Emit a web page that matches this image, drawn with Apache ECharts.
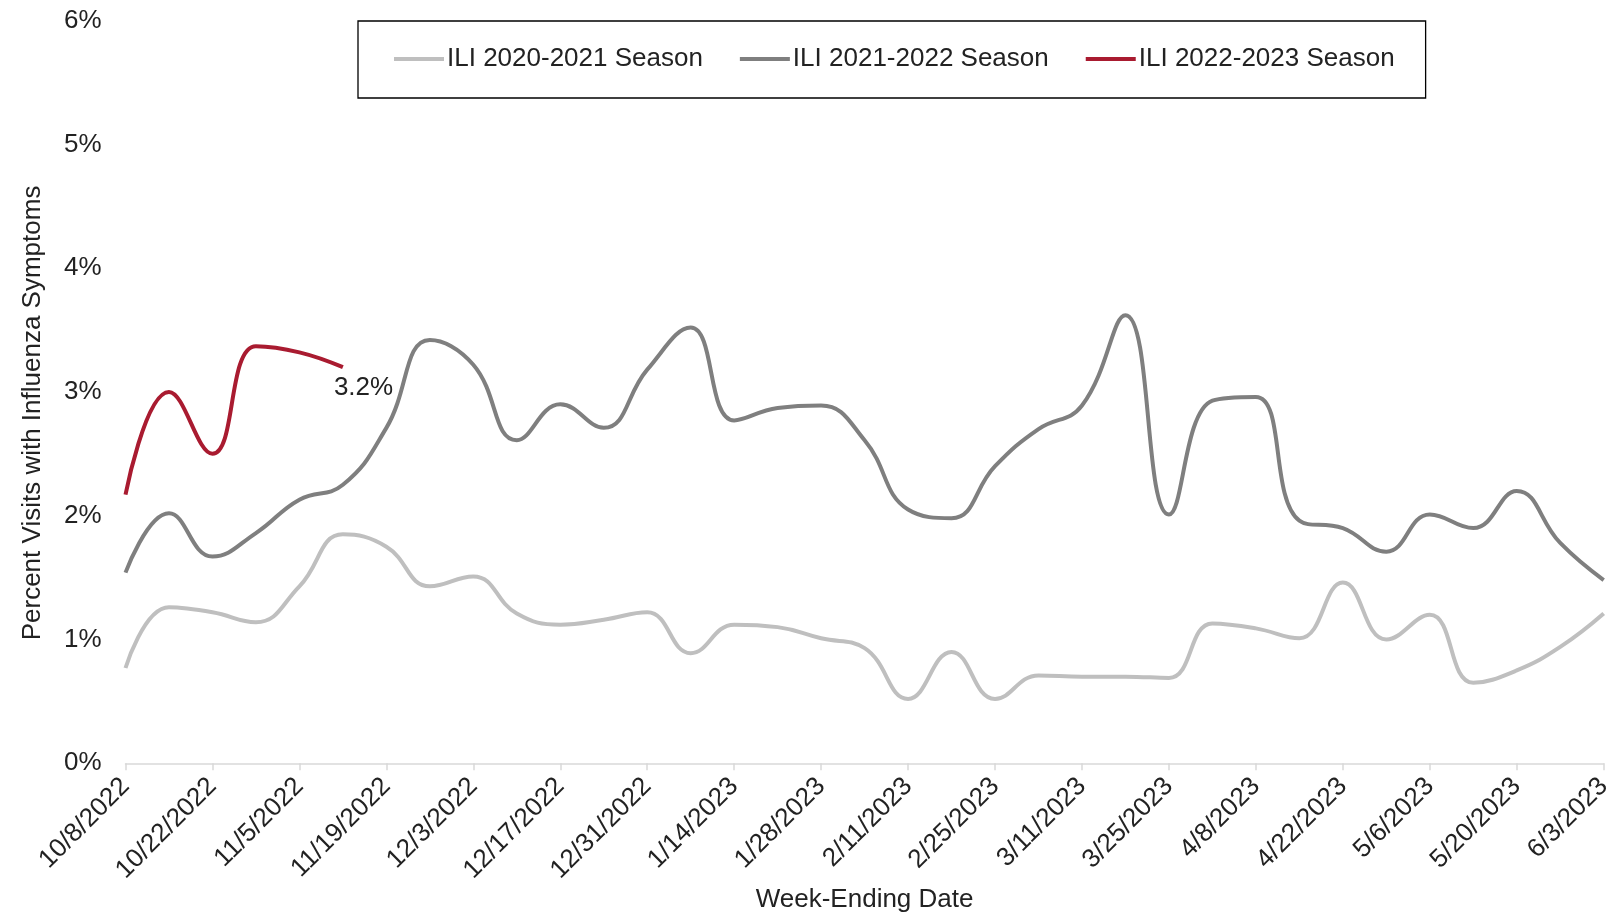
<!DOCTYPE html>
<html>
<head>
<meta charset="utf-8">
<script src="https://cdn.jsdelivr.net/npm/echarts@6/dist/echarts.min.js"></script>
<style>
html,body{margin:0;padding:0;background:#fff;}
#chart{width:1613px;height:913px;}
</style>
</head>
<body>
<div id="chart"></div>
<script>
const weeks = ['10/8/2022','10/15/2022','10/22/2022','10/29/2022','11/5/2022','11/12/2022','11/19/2022','11/26/2022','12/3/2022','12/10/2022','12/17/2022','12/24/2022','12/31/2022','1/7/2023','1/14/2023','1/21/2023','1/28/2023','2/4/2023','2/11/2023','2/18/2023','2/25/2023','3/4/2023','3/11/2023','3/18/2023','3/25/2023','4/1/2023','4/8/2023','4/15/2023','4/22/2023','4/29/2023','5/6/2023','5/13/2023','5/20/2023','5/27/2023','6/3/2023'];

const ili2020_2021 = [0.77,1.26,1.22,1.14,1.43,1.85,1.75,1.43,1.51,1.21,1.12,1.16,1.22,0.89,1.12,1.10,1.01,0.93,0.52,0.90,0.52,0.71,0.70,0.70,0.69,1.13,1.09,1.01,1.46,1.00,1.20,0.65,0.75,0.94,1.21];

const ili2021_2022 = [1.54,2.02,1.67,1.86,2.13,2.25,2.71,3.42,3.22,2.61,2.90,2.71,3.18,3.52,2.77,2.87,2.89,2.61,2.05,1.98,2.40,2.70,2.89,3.62,2.01,2.93,2.96,1.96,1.90,1.71,2.01,1.90,2.20,1.78,1.48];

const ili2022_2023 = [2.17,3.00,2.50,3.37,3.32,3.20];

const seriesNames = ['ILI 2020-2021 Season','ILI 2021-2022 Season','ILI 2022-2023 Season'];
const yTicks = [0,1,2,3,4,5,6];

const FONT = '"Liberation Sans", Arial, sans-serif';
const TXT = '#222222';
const FS = 26;

const chart = echarts.init(document.getElementById('chart'));
chart.setOption({
  animation: false,
  textStyle: { fontFamily: FONT },
  grid: { left: 125.5, right: 9.3, top: 20.6, bottom: 149.7, containLabel: false, outerBoundsMode: 'none' },
  legend: {
    data: seriesNames,
    left: 358,
    top: 21,
    padding: [25, 31, 26, 36],
    borderColor: '#000',
    borderWidth: 1.3,
    itemGap: 37,
    itemWidth: 50,
    itemHeight: 4,
    icon: 'rect',
    textStyle: { fontSize: FS, color: TXT, fontFamily: FONT, padding: [0,0,0,-2] }
  },
  xAxis: {
    type: 'category',
    data: weeks,
    boundaryGap: false,
    name: 'Week-Ending Date',
    nameLocation: 'middle',
    nameGap: 124,
    nameMoveOverlap: false,
    nameTextStyle: { fontSize: FS, color: TXT, fontFamily: FONT },
    axisLine: { lineStyle: { color: '#D9D9D9', width: 1.5 } },
    axisTick: { show: true, interval: 1, length: 7, lineStyle: { color: '#D9D9D9', width: 1.5 } },
    axisLabel: { interval: 1, rotate: 45, margin: 19, fontSize: FS, color: TXT, fontFamily: FONT },
    splitLine: { show: false }
  },
  yAxis: {
    type: 'value',
    min: yTicks[0],
    max: yTicks[yTicks.length - 1],
    interval: 1,
    name: 'Percent Visits with Influenza Symptoms',
    nameLocation: 'middle',
    nameGap: 80,
    nameMoveOverlap: false,
    nameTextStyle: { fontSize: FS, color: TXT, fontFamily: FONT, padding: [0, 42, 0, 0] },
    axisLine: { show: false },
    axisTick: { show: false },
    splitLine: { show: false },
    axisLabel: { formatter: '{value}%', margin: 24, fontSize: FS, color: TXT, fontFamily: FONT }
  },
  series: [
    {
      name: seriesNames[0], type: 'line', data: ili2020_2021, smooth: 0.45,
      showSymbol: false, symbol: 'none',
      lineStyle: { color: '#BFBFBF', width: 4 }, itemStyle: { color: '#BFBFBF' }
    },
    {
      name: seriesNames[1], type: 'line', data: ili2021_2022, smooth: 0.45,
      showSymbol: false, symbol: 'none',
      lineStyle: { color: '#7F7F7F', width: 4 }, itemStyle: { color: '#7F7F7F' }
    },
    {
      name: seriesNames[2], type: 'line', data: ili2022_2023, smooth: 0.45,
      showSymbol: false, symbol: 'none',
      lineStyle: { color: '#A91B30', width: 4 }, itemStyle: { color: '#A91B30' },
      endLabel: {
        show: true,
        formatter: p => p.value.toFixed(1) + '%',
        fontSize: FS, color: TXT, fontFamily: FONT,
        distance: 8,
        offset: [-17, 21]
      }
    }
  ]
});
</script>
</body>
</html>
